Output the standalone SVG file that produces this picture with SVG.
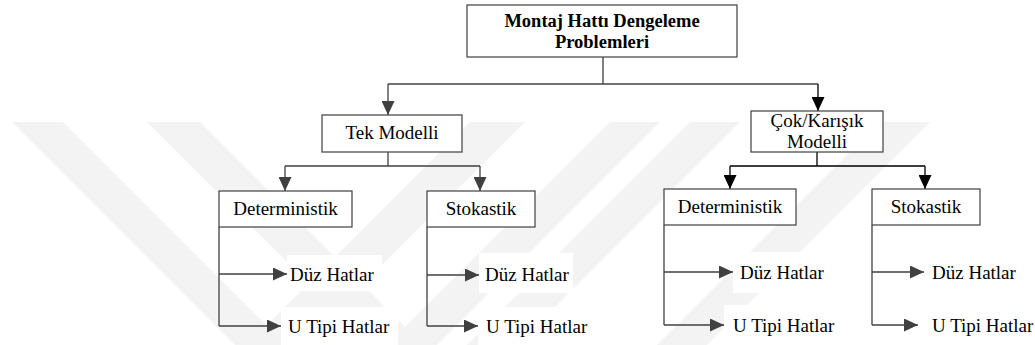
<svg xmlns="http://www.w3.org/2000/svg" width="1035" height="345" viewBox="0 0 1035 345" font-family="Liberation Serif">
<style>
.box{fill:#fff;stroke:#404040;stroke-width:1.2}
text{font-size:19px;fill:#000}
.t{text-anchor:middle}
.b{font-weight:bold;font-size:18.5px}
.c{fill:none;stroke:#404040;stroke-width:1.3}
.ck{fill:none;stroke:#000;stroke-width:1.3}
.wm{fill:#f3f3f3}
.bg{fill:#fff}
</style>
<defs>
<marker id="ah" markerUnits="userSpaceOnUse" markerWidth="14" markerHeight="13" viewBox="0 0 14 13" refX="14" refY="6.5" orient="auto">
<path d="M0,0 L14,6.5 L0,13 z" fill="#404040"/>
</marker>
<marker id="ahk" markerUnits="userSpaceOnUse" markerWidth="14" markerHeight="13" viewBox="0 0 14 13" refX="14" refY="6.5" orient="auto">
<path d="M0,0 L14,6.5 L0,13 z" fill="#000"/>
</marker>
</defs>
<rect width="1035" height="345" fill="#fff"/>
<g id="watermark">
<polygon class="wm" points="12,122 63,122 286,345 235,345"/>
<polygon class="wm" points="147,122 200,122 423,345 370,345"/>
<polygon class="wm" points="470,122 525,122 302,345 247,345"/>
<polygon class="wm" points="610,122 660,122 437,345 387,345"/>
<polygon class="wm" points="690,122 740,122 517,345 467,345"/>
<polygon class="wm" points="880,122 930,122 707,345 657,345"/>
</g>
<g id="connectors">
<path class="c" d="M603,57 V84"/>
<path class="c" d="M388,84 H818"/>
<path class="c" d="M388,84 V115" marker-end="url(#ah)"/>
<path class="ck" d="M818,84 V111" marker-end="url(#ahk)"/>
<path class="c" d="M388,152 V166 M285,166 H480"/>
<path class="c" d="M285,166 V191" marker-end="url(#ah)"/>
<path class="c" d="M480,166 V191" marker-end="url(#ah)"/>
<path class="ck" d="M817,152 V166 M730,166 H925"/>
<path class="ck" d="M730,166 V189" marker-end="url(#ahk)"/>
<path class="ck" d="M925,166 V189" marker-end="url(#ahk)"/>
<path class="c" d="M219,227 V326"/>
<path class="c" d="M219,274 H287" marker-end="url(#ah)"/>
<path class="c" d="M219,326 H281" marker-end="url(#ah)"/>
<path class="c" d="M427,227 V326"/>
<path class="c" d="M427,275 H479" marker-end="url(#ah)"/>
<path class="c" d="M427,326 H478" marker-end="url(#ah)"/>
<path class="c" d="M664,225 V325"/>
<path class="c" d="M664,272 H733" marker-end="url(#ah)"/>
<path class="c" d="M664,325 H724" marker-end="url(#ah)"/>
<path class="c" d="M872,225 V325"/>
<path class="c" d="M872,272 H924" marker-end="url(#ah)"/>
<path class="c" d="M872,325 H918" marker-end="url(#ah)"/>
</g>
<g id="root">
<rect class="box" x="467" y="5" width="270" height="52"/>
<text class="t b" x="602" y="27">Montaj Hattı Dengeleme</text>
<text class="t b" x="602" y="48">Problemleri</text>
</g>
<g id="tek">
<rect class="box" x="322" y="115" width="140" height="37"/>
<text class="t" x="392" y="139">Tek Modelli</text>
</g>
<g id="cok">
<rect class="box" x="751" y="111" width="132" height="41"/>
<text class="t" x="817" y="127">Çok/Karışık</text>
<text class="t" x="817" y="148">Modelli</text>
</g>
<g id="tek-det">
<rect class="box" x="219" y="191" width="133" height="36"/>
<text class="t" x="285.5" y="215">Deterministik</text>
</g>
<g id="tek-stok">
<rect class="box" x="427" y="191" width="108" height="36"/>
<text class="t" x="481" y="215">Stokastik</text>
</g>
<g id="cok-det">
<rect class="box" x="664" y="189" width="132" height="36"/>
<text class="t" x="730" y="213">Deterministik</text>
</g>
<g id="cok-stok">
<rect class="box" x="872" y="189" width="108" height="36"/>
<text class="t" x="926" y="213">Stokastik</text>
</g>
<g id="tek-det-duz">
<rect class="bg" x="287" y="255" width="95" height="36"/>
<text x="290" y="281">Düz Hatlar</text>
</g>
<g id="tek-det-u">
<rect class="bg" x="281" y="307" width="117" height="38"/>
<text x="288" y="333">U Tipi Hatlar</text>
</g>
<g id="tek-stok-duz">
<rect class="bg" x="479" y="253" width="94" height="40"/>
<text x="485" y="281">Düz Hatlar</text>
</g>
<g id="tek-stok-u">
<rect class="bg" x="478" y="307" width="115" height="38"/>
<text x="486" y="333">U Tipi Hatlar</text>
</g>
<g id="cok-det-duz">
<rect class="bg" x="733" y="252" width="95" height="41"/>
<text x="740" y="279">Düz Hatlar</text>
</g>
<g id="cok-det-u">
<rect class="bg" x="724" y="305" width="118" height="40"/>
<text x="733" y="332">U Tipi Hatlar</text>
</g>
<g id="cok-stok-duz">
<text x="932" y="279">Düz Hatlar</text>
</g>
<g id="cok-stok-u">
<text x="932" y="332">U Tipi Hatlar</text>
</g>
</svg>
